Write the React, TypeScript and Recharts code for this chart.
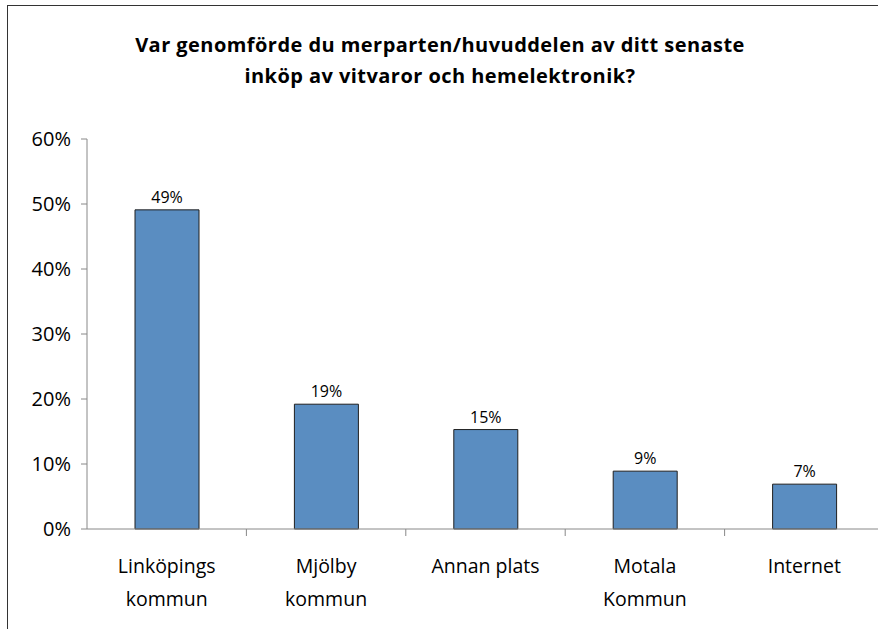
import React from "react";
import { BarChart, Bar, XAxis, YAxis, LabelList } from "recharts";

const categories = ["Linköpings kommun", "Mjölby kommun", "Annan plats", "Motala Kommun", "Internet"];
const categoryLines = [["Linköpings", "kommun"], ["Mjölby", "kommun"], ["Annan plats"], ["Motala", "Kommun"], ["Internet"]];
const values = [49.1, 19.2, 15.3, 8.9, 6.9];
const yTicks = [0, 10, 20, 30, 40, 50, 60];
const titleLines = ["Var genomförde du merparten/huvuddelen av ditt senaste", "inköp av vitvaror och hemelektronik?"];

const data = categories.map((c, i) => ({ name: c, idx: i, value: values[i] }));

const FONT = "'Open Sans', Lato, sans-serif";

const XTick = (props: any) => {
  const { x, y, payload, index } = props;
  const band = 797 / 5;
  const lines = categoryLines[payload.index ?? index] || [String(payload.value)];
  return (
    <g>
      {index > 0 && (
        <line x1={x - band / 2} x2={x - band / 2} y1={y - 8} y2={y - 1} stroke="#888" strokeWidth={1} />
      )}
      <text x={x} y={y + 36} textAnchor="middle" fontFamily={FONT} fontSize={19.5} fill="#000">
        {lines.map((l: string, i: number) => (
          <tspan key={i} x={x} dy={i === 0 ? 0 : 33}>
            {l}
          </tspan>
        ))}
      </text>
    </g>
  );
};

export default function App() {
  return (
    <div style={{ position: "absolute", left: 0, top: 0, width: 878, height: 629, overflow: "hidden", background: "#fff" }}>
      <div
        style={{
          position: "absolute",
          left: 7,
          top: 5,
          width: 900,
          height: 700,
          border: "1.5px solid #333",
          boxSizing: "border-box",
        }}
      />
      <div
        style={{
          position: "absolute",
          left: 0,
          top: 29,
          width: 880,
          textAlign: "center",
          fontFamily: FONT,
          fontWeight: "bold",
          fontSize: 20,
          letterSpacing: 0.45,
          lineHeight: "31px",
          color: "#000",
        }}
      >
        {titleLines.map((l, i) => (
          <div key={i}>{l}</div>
        ))}
      </div>
      <div style={{ position: "absolute", left: 0, top: 0 }}>
        <BarChart width={900} height={629} data={data} margin={{ top: 139, right: 16, bottom: 0, left: 0 }} barCategoryGap={0}>
          <YAxis
            width={87}
            domain={[0, 60]}
            ticks={yTicks}
            interval={0}
            tickFormatter={(v: number) => `${v}%`}
            tick={{ fontFamily: FONT, fontSize: 20, fill: "#000" }}
            tickSize={6}
            tickMargin={10}
            stroke="#888"
            axisLine={{ stroke: "#888" }}
            tickLine={{ stroke: "#888" }}
          />
          <XAxis
            dataKey="name"
            height={100}
            interval={0}
            tick={<XTick />}
            tickLine={false}
            axisLine={{ stroke: "#888" }}
          />
          <Bar dataKey="value" barSize={64} fill="#5A8DC1" stroke="#1f1f1f" strokeWidth={1} isAnimationActive={false}>
            <LabelList
              dataKey="value"
              position="top"
              offset={7}
              formatter={(v: number) => `${Math.round(v)}%`}
              style={{ fontFamily: FONT, fontSize: 16, fill: "#000" }}
            />
          </Bar>
        </BarChart>
      </div>
    </div>
  );
}
